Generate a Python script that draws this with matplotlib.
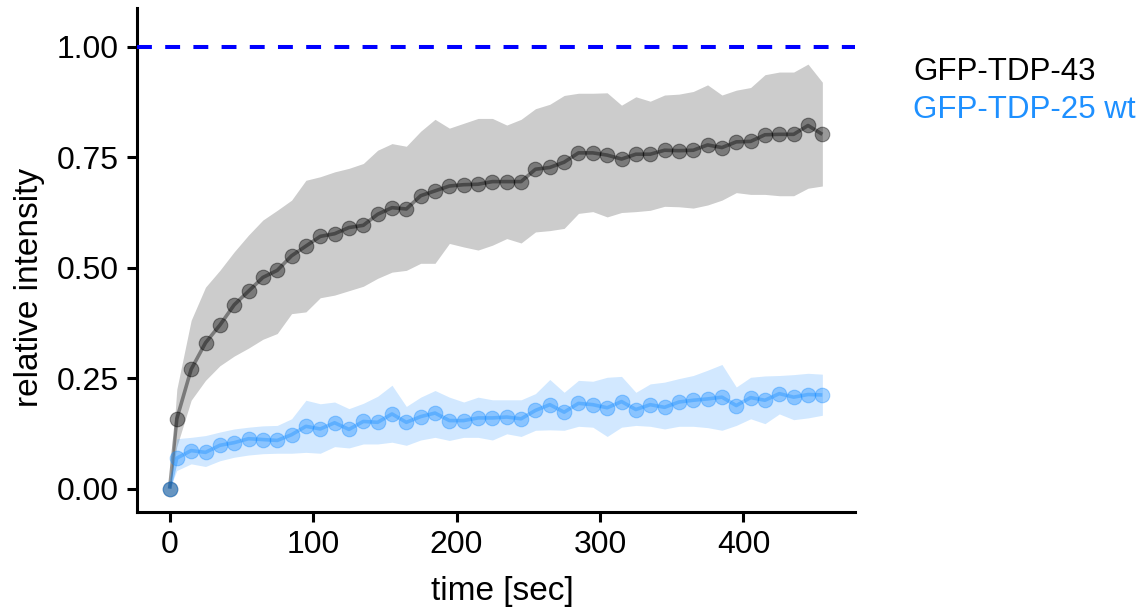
import matplotlib
matplotlib.use("Agg")
import matplotlib.pyplot as plt

plt.rcParams['font.family'] = ['Liberation Sans', 'DejaVu Sans']

time_sec = [0, 5, 15, 25, 35, 45, 55, 65, 75, 85, 95, 105, 115, 125, 135, 145,
            155, 165, 175, 185, 195, 205, 215, 225, 235, 245, 255, 265, 275,
            285, 295, 305, 315, 325, 335, 345, 355, 365, 375, 385, 395, 405,
            415, 425, 435, 445, 455]

tdp43_mean = [0.000, 0.158, 0.270, 0.330, 0.370, 0.416, 0.447, 0.478, 0.494,
              0.527, 0.549, 0.571, 0.577, 0.591, 0.596, 0.621, 0.636, 0.633,
              0.663, 0.674, 0.685, 0.688, 0.689, 0.695, 0.695, 0.695, 0.723,
              0.727, 0.739, 0.760, 0.760, 0.755, 0.746, 0.757, 0.757, 0.766,
              0.765, 0.766, 0.778, 0.772, 0.785, 0.786, 0.801, 0.802, 0.802,
              0.822, 0.802]
tdp43_upper = [0.000, 0.225, 0.381, 0.456, 0.494, 0.536, 0.574, 0.608, 0.630,
               0.653, 0.698, 0.706, 0.717, 0.725, 0.736, 0.766, 0.781, 0.775,
               0.809, 0.836, 0.816, 0.827, 0.838, 0.838, 0.823, 0.836, 0.860,
               0.870, 0.890, 0.895, 0.895, 0.896, 0.868, 0.887, 0.877, 0.891,
               0.893, 0.899, 0.914, 0.891, 0.902, 0.908, 0.937, 0.943, 0.943,
               0.961, 0.920]
tdp43_lower = [0.000, 0.095, 0.200, 0.245, 0.278, 0.300, 0.318, 0.338, 0.351,
               0.396, 0.400, 0.432, 0.438, 0.448, 0.458, 0.476, 0.490, 0.494,
               0.510, 0.510, 0.555, 0.547, 0.540, 0.551, 0.566, 0.556, 0.581,
               0.584, 0.589, 0.623, 0.627, 0.615, 0.625, 0.627, 0.630, 0.639,
               0.638, 0.635, 0.642, 0.653, 0.670, 0.666, 0.666, 0.663, 0.663,
               0.680, 0.685]

tdp25_mean = [0.000, 0.069, 0.086, 0.082, 0.098, 0.104, 0.113, 0.111, 0.109,
              0.122, 0.141, 0.135, 0.149, 0.134, 0.152, 0.150, 0.169, 0.150,
              0.163, 0.171, 0.154, 0.154, 0.160, 0.160, 0.162, 0.158, 0.177,
              0.190, 0.173, 0.193, 0.190, 0.183, 0.197, 0.179, 0.190, 0.184,
              0.196, 0.200, 0.203, 0.207, 0.188, 0.206, 0.200, 0.215, 0.207,
              0.213, 0.212]
tdp25_upper = [0.000, 0.113, 0.116, 0.120, 0.128, 0.135, 0.139, 0.142, 0.143,
               0.158, 0.200, 0.192, 0.196, 0.181, 0.193, 0.209, 0.234, 0.186,
               0.207, 0.222, 0.207, 0.196, 0.207, 0.201, 0.201, 0.201, 0.215,
               0.247, 0.218, 0.245, 0.243, 0.252, 0.254, 0.218, 0.237, 0.241,
               0.249, 0.256, 0.268, 0.281, 0.230, 0.252, 0.255, 0.256, 0.258,
               0.261, 0.259]
tdp25_lower = [0.000, 0.041, 0.056, 0.050, 0.063, 0.071, 0.076, 0.079, 0.080,
               0.080, 0.082, 0.080, 0.095, 0.092, 0.101, 0.101, 0.105, 0.098,
               0.110, 0.116, 0.109, 0.116, 0.116, 0.110, 0.124, 0.118, 0.132,
               0.133, 0.132, 0.141, 0.139, 0.118, 0.139, 0.143, 0.141, 0.135,
               0.141, 0.141, 0.138, 0.132, 0.143, 0.158, 0.147, 0.169, 0.156,
               0.160, 0.166]

series_names = ["GFP-TDP-43", "GFP-TDP-25 wt"]
series_colors = ["black", "#1E90FF"]
x_ticks = [0, 100, 200, 300, 400]
y_ticks = [0.00, 0.25, 0.50, 0.75, 1.00]
y_ticklabels = ["0.00", "0.25", "0.50", "0.75", "1.00"]
reference_level = 1.0

fig = plt.figure(figsize=(11.42, 6.09), dpi=100)
ax = fig.add_axes([137/1142, 1 - 512/609, (855-137)/1142, (512-8)/609])

series = [(tdp43_mean, tdp43_lower, tdp43_upper), (tdp25_mean, tdp25_lower, tdp25_upper)]
for (m, lo, hi), c in zip(series, series_colors):
    ax.fill_between(time_sec, lo, hi, color=c, alpha=0.2, linewidth=0, zorder=1)
for (m, lo, hi), c in zip(series, series_colors):
    ax.plot(time_sec, m, color=c, alpha=0.4, linewidth=2.6, zorder=2,
            solid_capstyle='butt')
    ax.plot(time_sec, m, linestyle='none', marker='o', markersize=10.5,
            markerfacecolor=c, markeredgecolor=c, markeredgewidth=0.8,
            alpha=0.4, zorder=3)

ax.axhline(reference_level, color='#0000FF', linewidth=2.9, dashes=(3.7, 3.3), zorder=4)

ax.set_xlim(-22.75, 477.75)
ax.set_ylim(-0.053, 1.088)
ax.set_xticks(x_ticks)
ax.set_yticks(y_ticks)
ax.set_yticklabels(y_ticklabels)

for s in ['top', 'right']:
    ax.spines[s].set_visible(False)
for s in ['left', 'bottom']:
    ax.spines[s].set_linewidth(2.2)
    ax.spines[s].set_color('black')
ax.tick_params(axis='both', length=7, width=2.2, color='black',
               labelsize=23, labelcolor='black', pad=6)

ax.set_xlabel("time [sec]", fontsize=24)
ax.set_ylabel("relative intensity", fontsize=24)
ax.xaxis.set_label_coords((502 - 137) / 718, (512 - 576) / 504)
ax.yaxis.set_label_coords((45 - 137) / 718, (512 - 287) / 504)

legend_y = [72, 110]
for name, c, yy in zip(series_names, series_colors, legend_y):
    fig.text(913/1142, 1 - yy/609, name, color=c, fontsize=22.5,
             ha='left', va='center')

fig.savefig("out.png", dpi=100, facecolor='white')
